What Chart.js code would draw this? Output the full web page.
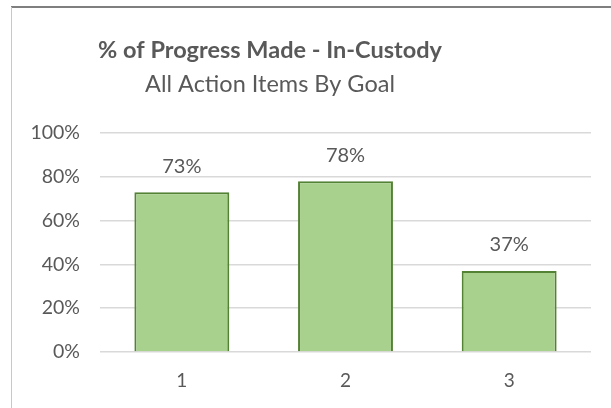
<!DOCTYPE html>
<html>
<head>
<meta charset="utf-8">
<script src="https://cdn.jsdelivr.net/npm/chart.js@4/dist/chart.umd.min.js"></script>
<style>
  html, body { margin: 0; padding: 0; background: #fff; overflow: hidden; }
  canvas { display: block; }
</style>
</head>
<body>
<canvas id="myGraph" width="611" height="408"></canvas>
<script>
const goals = ['1', '2', '3']
const progress = [73, 78, 37]
const yTicks = [0, 20, 40, 60, 80, 100]
const titleText = '% of Progress Made - In-Custody'
const subtitleText = 'All Action Items By Goal'

const textColor = '#595959'
const fontFamily = 'Lato, "Open Sans", sans-serif'

// outer chart frame (only its top and left edges are inside the picture)
const frame = {
  id: 'frame',
  beforeDraw(chart) {
    const ctx = chart.ctx
    ctx.save()
    ctx.fillStyle = '#fff'
    ctx.fillRect(0, 0, chart.width, chart.height)
    ctx.strokeStyle = '#7f7f7f'
    ctx.lineWidth = 2
    ctx.beginPath()
    ctx.moveTo(11, 7)
    ctx.lineTo(chart.width, 7)
    ctx.stroke()
    ctx.strokeStyle = '#c8c8c8'
    ctx.lineWidth = 1
    ctx.beginPath()
    ctx.moveTo(11.5, 7)
    ctx.lineTo(11.5, chart.height)
    ctx.stroke()
    ctx.restore()
  },
}

// Title block is centred on the original (wider) chart frame, not on the canvas
const titles = {
  id: 'titles',
  afterDraw(chart) {
    const ctx = chart.ctx
    ctx.save()
    ctx.fillStyle = textColor
    ctx.textAlign = 'center'
    ctx.textBaseline = 'middle'
    ctx.font = 'bold 23.5px ' + fontFamily
    ctx.fillText(titleText, 270, 50)
    ctx.font = '23.5px ' + fontFamily
    ctx.fillText(subtitleText, 270, 84)
    ctx.restore()
  },
}

// draws the % value above every bar
const barLabels = {
  id: 'barLabels',
  afterDatasetsDraw(chart) {
    const ctx = chart.ctx
    const meta = chart.getDatasetMeta(0)
    ctx.save()
    ctx.fillStyle = textColor
    ctx.font = '20px ' + fontFamily
    ctx.textAlign = 'center'
    ctx.textBaseline = 'middle'
    meta.data.forEach((bar, i) => {
      ctx.fillText(progress[i] + '%', bar.x, bar.y - 26)
    })
    ctx.restore()
  },
}

const ctx = document.getElementById('myGraph').getContext('2d')
new Chart(ctx, {
  type: 'bar',
  data: {
    labels: goals,
    datasets: [
      {
        data: progress,
        backgroundColor: '#a9d18e',
        borderColor: '#548235',
        borderWidth: 2,
        categoryPercentage: 1,
        barPercentage: 0.58,
      },
    ],
  },
  options: {
    responsive: false,
    animation: false,
    layout: { padding: { left: 0, right: 20, top: 133, bottom: 0 } },
    plugins: {
      legend: { display: false },
      tooltip: { enabled: false },
      title: { display: false },
    },
    scales: {
      x: {
        grid: { display: false },
        border: { display: false },
        ticks: { color: textColor, font: { family: fontFamily, size: 19 }, padding: 9 },
        afterFit: (scale) => { scale.height = 56 },
      },
      y: {
        min: 0,
        max: 100,
        afterBuildTicks: (scale) => {
          scale.ticks = yTicks.map((v) => ({ value: v }))
        },
        grid: { color: '#d9d9d9', lineWidth: 1.5, drawTicks: false },
        border: { display: false },
        ticks: {
          color: textColor,
          font: { family: fontFamily, size: 19.5 },
          padding: 20,
          callback: (v) => v + '%',
        },
        afterFit: (scale) => { scale.width = 100 },
      },
    },
  },
  plugins: [frame, barLabels, titles],
})
</script>
</body>
</html>
